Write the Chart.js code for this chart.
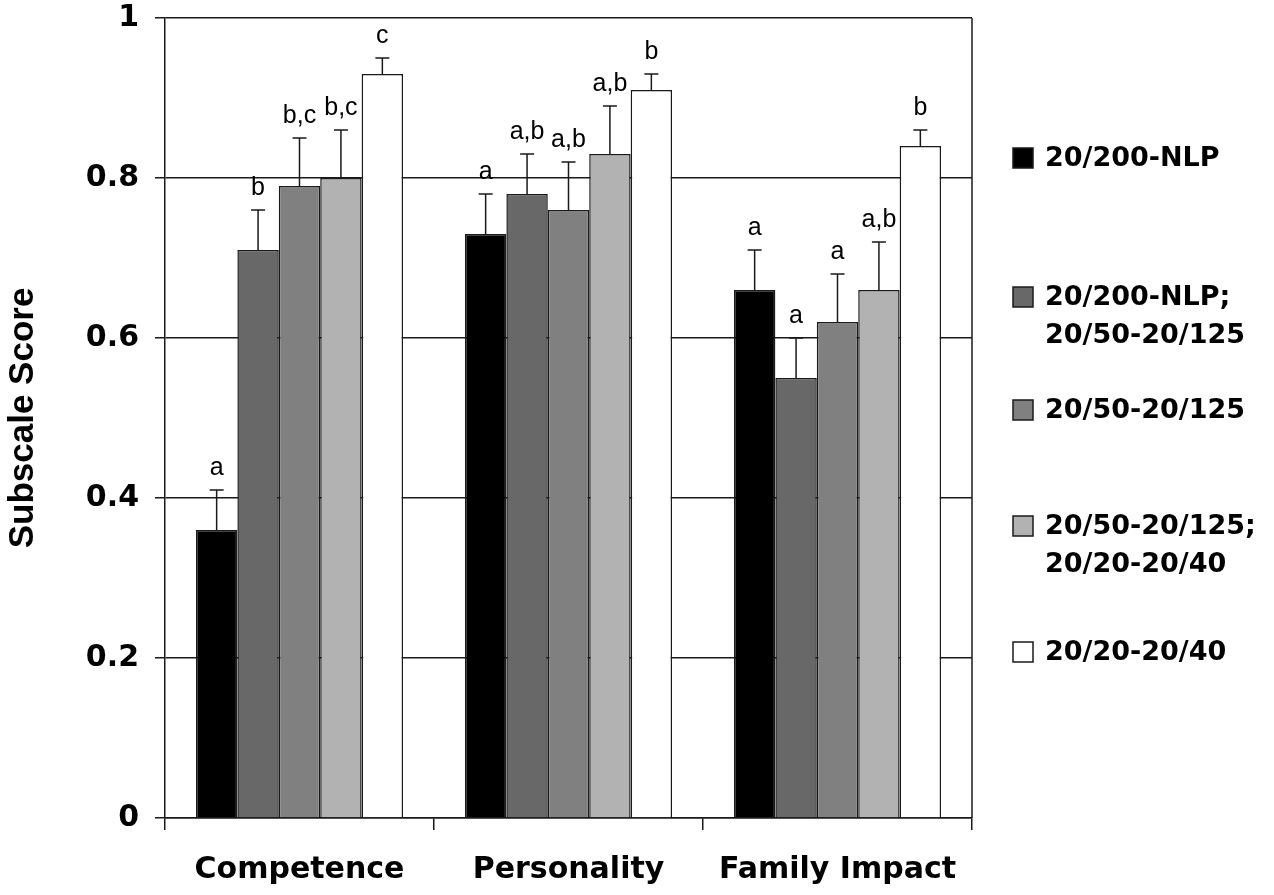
<!DOCTYPE html>
<html>
<head>
<meta charset="utf-8">
<script src="https://cdn.jsdelivr.net/npm/chart.js@4/dist/chart.umd.min.js"></script>
<style>
  html, body { margin: 0; padding: 0; background: #fff; }
  #wrap { width: 1274px; height: 895px; position: relative; }
</style>
</head>
<body>
<div id="wrap"><canvas id="chart"></canvas></div>
<script>
// subscale scores by visual acuity group
const categories = ['Competence', 'Personality', 'Family Impact'];
const groupNames = [
  ['20/200-NLP'],
  ['20/200-NLP;', '20/50-20/125'],
  ['20/50-20/125'],
  ['20/50-20/125;', '20/20-20/40'],
  ['20/20-20/40']
];
const scoreNlp = [0.36, 0.73, 0.66];
const scoreNlpMid = [0.71, 0.78, 0.55];
const scoreMid = [0.79, 0.76, 0.62];
const scoreMidGood = [0.80, 0.83, 0.66];
const scoreGood = [0.93, 0.91, 0.84];
// upper error bar lengths
const errNlp = [0.05, 0.05, 0.05];
const errNlpMid = [0.05, 0.05, 0.05];
const errMid = [0.06, 0.06, 0.06];
const errMidGood = [0.06, 0.06, 0.06];
const errGood = [0.02, 0.02, 0.02];
// significance letters
const sigNlp = ['a', 'a', 'a'];
const sigNlpMid = ['b', 'a,b', 'a'];
const sigMid = ['b,c', 'a,b', 'a'];
const sigMidGood = ['b,c', 'a,b', 'a,b'];
const sigGood = ['c', 'b', 'b'];
const yTicks = [0, 0.2, 0.4, 0.6, 0.8, 1];

const fills = ['#000000', '#686868', '#808080', '#b2b2b2', '#ffffff'];
const scores = [scoreNlp, scoreNlpMid, scoreMid, scoreMidGood, scoreGood];
const errors = [errNlp, errNlpMid, errMid, errMidGood, errGood];
const letters = [sigNlp, sigNlpMid, sigMid, sigMidGood, sigGood];
const INK = '#1a1a1a';

// error bars, letters and right frame line
const extrasPlugin = {
  id: 'extras',
  afterDatasetsDraw(chart) {
    const ctx = chart.ctx;
    const y = chart.scales.y;
    const area = chart.chartArea;
    ctx.save();
    ctx.strokeStyle = INK;
    ctx.lineWidth = 1.5;
    ctx.beginPath();
    ctx.moveTo(area.right, area.top);
    ctx.lineTo(area.right, area.bottom);
    ctx.stroke();

    chart.data.datasets.forEach((ds, i) => {
      const meta = chart.getDatasetMeta(i);
      meta.data.forEach((bar, j) => {
        const top = y.getPixelForValue(ds.data[j] + errors[i][j]);
        ctx.beginPath();
        ctx.moveTo(bar.x, bar.y);
        ctx.lineTo(bar.x, top);
        ctx.moveTo(bar.x - 7, top);
        ctx.lineTo(bar.x + 7, top);
        ctx.stroke();
        ctx.fillStyle = '#000';
        ctx.font = '25px "Liberation Sans", Arial, sans-serif';
        ctx.textAlign = 'center';
        ctx.textBaseline = 'alphabetic';
        ctx.fillText(letters[i][j], bar.x, top - 15);
      });
    });
    ctx.restore();
  },
  afterDraw(chart) {
    // legend on the right
    const ctx = chart.ctx;
    const rowY = [158, 297, 410, 526, 652];
    const lineH = 38;
    ctx.save();
    ctx.font = 'bold 27px "DejaVu Sans", sans-serif';
    ctx.textAlign = 'left';
    ctx.textBaseline = 'middle';
    groupNames.forEach((lines, i) => {
      const cy = rowY[i];
      ctx.fillStyle = fills[i];
      ctx.fillRect(1013, cy - 10, 20, 20);
      ctx.strokeStyle = INK;
      ctx.lineWidth = 1.5;
      ctx.strokeRect(1013, cy - 10, 20, 20);
      ctx.fillStyle = '#000';
      lines.forEach((t, k) => ctx.fillText(t, 1045, cy + k * lineH + 1));
    });
    ctx.restore();
  }
};

new Chart(document.getElementById('chart'), {
  type: 'bar',
  data: {
    labels: categories,
    datasets: scores.map((vals, i) => ({
      label: groupNames[i].join(' '),
      data: vals,
      backgroundColor: fills[i],
      borderColor: INK,
      borderWidth: 1.5,
      categoryPercentage: 0.77,
      barPercentage: 1
    }))
  },
  options: {
    responsive: true,
    maintainAspectRatio: false,
    animation: false,
    layout: { padding: { left: 0, right: 302, top: 18, bottom: 0 } },
    plugins: {
      legend: { display: false },
      tooltip: { enabled: false }
    },
    scales: {
      x: {
        afterFit: (s) => { s.height = 77; s.paddingLeft = 0; s.paddingRight = 0; },
        grid: {
          offset: true,
          drawOnChartArea: false,
          tickLength: 12,
          color: INK,
          lineWidth: 1.5
        },
        border: { color: INK, width: 1.5 },
        ticks: {
          color: '#000',
          padding: 22,
          font: { family: '"DejaVu Sans", sans-serif', size: 30, weight: 'bold' }
        }
      },
      y: {
        min: 0,
        max: 1,
        afterFit: (s) => { s.width = 165; s.paddingTop = 0; s.paddingBottom = 0; },
        afterBuildTicks: (s) => { s.ticks = yTicks.map(v => ({ value: v })); },
        grid: { color: INK, lineWidth: 1.5, tickLength: 10 },
        border: { color: INK, width: 1.5 },
        ticks: {
          color: '#000',
          padding: 16,
          callback: (v) => String(v),
          font: { family: '"DejaVu Sans", sans-serif', size: 30, weight: 'bold' }
        },
        title: {
          display: true,
          text: 'Subscale Score',
          color: '#000',
          padding: { top: 2, bottom: 4 },
          font: { family: '"Liberation Sans", Arial, sans-serif', size: 35, weight: 'bold' }
        }
      }
    }
  },
  plugins: [extrasPlugin]
});
</script>
</body>
</html>
